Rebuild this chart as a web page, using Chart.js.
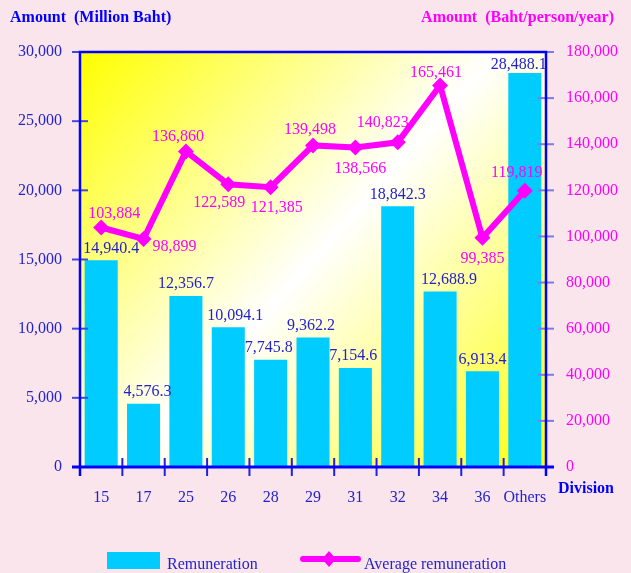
<!DOCTYPE html>
<html>
<head>
<meta charset="utf-8">
<script src="https://cdn.jsdelivr.net/npm/chart.js@4/dist/chart.umd.min.js"></script>
<style>
  html, body { margin: 0; padding: 0; background: #fbe5ec; }
  #wrap { width: 631px; height: 573px; position: relative; }
</style>
</head>
<body>
<div id="wrap"><canvas id="chart"></canvas></div>
<script>
// data
const divisions = ['15', '17', '25', '26', '28', '29', '31', '32', '34', '36', 'Others'];
const remuneration = [14940.4, 4576.3, 12356.7, 10094.1, 7745.8, 9362.2, 7154.6, 18842.3, 12688.9, 6913.4, 28488.1];
const avgRemuneration = [103884, 98899, 136860, 122589, 121385, 139498, 138566, 140823, 165461, 99385, 119819];
const leftTicks = [0, 5000, 10000, 15000, 20000, 25000, 30000];
const rightTicks = [0, 20000, 40000, 60000, 80000, 100000, 120000, 140000, 160000, 180000];

// label placement (offsets from the mark, in px)
const barLabelDx = [10, 4, 0, 7, -2, -2, -2, 0, 9, 0, -6];
const lineLabelOffset = [[13, -14], [31, 8], [-8, -15], [-9, 18], [6, 21], [-3, -16], [5, 21], [-15, -20], [-4, -13], [0, 21], [-8, -18]];

const SERIF = "'Liberation Serif', 'Times New Roman', serif";
const BLUE = '#0000ff';
const TEXT_BLUE = '#2323cc';
const MAGENTA = '#ff00ff';
const fmt = (v, d) => v.toLocaleString('en-US', { minimumFractionDigits: d, maximumFractionDigits: d });

const decor = {
  id: 'decor',
  beforeDatasetsDraw(chart) {
    const { ctx, chartArea: a } = chart;
    ctx.save();
    const g = ctx.createLinearGradient(a.left, a.top, a.right, a.bottom);
    g.addColorStop(0, '#ffff00');
    g.addColorStop(0.5, '#ffffff');
    g.addColorStop(1, '#ffff10');
    ctx.fillStyle = g;
    ctx.fillRect(a.left, a.top, a.right - a.left, a.bottom - a.top);
    ctx.restore();
  },
  afterDatasetsDraw(chart) {
    const { ctx, chartArea: a, scales } = chart;
    ctx.save();

    // tick marks crossing the axes
    ctx.lineWidth = 2;
    ctx.strokeStyle = '#4646e0';
    scales.y.ticks.forEach(t => {
      const y = scales.y.getPixelForValue(t.value);
      ctx.beginPath(); ctx.moveTo(a.left - 8, y); ctx.lineTo(a.left + 8, y); ctx.stroke();
    });
    ctx.strokeStyle = '#7a7aee';
    scales.y1.ticks.forEach(t => {
      const y = scales.y1.getPixelForValue(t.value);
      ctx.beginPath(); ctx.moveTo(a.right - 8, y); ctx.lineTo(a.right + 8, y); ctx.stroke();
    });
    ctx.strokeStyle = '#2020e8';
    const n = divisions.length;
    for (let i = 0; i <= n; i++) {
      const x = a.left + (a.right - a.left) * i / n;
      ctx.beginPath(); ctx.moveTo(x, a.bottom - 9); ctx.lineTo(x, a.bottom + 9); ctx.stroke();
    }

    // frame
    ctx.strokeStyle = BLUE;
    ctx.lineWidth = 2.5;
    ctx.beginPath();
    ctx.moveTo(a.left, a.bottom + 9); ctx.lineTo(a.left, a.top);
    ctx.lineTo(a.right, a.top); ctx.lineTo(a.right, a.bottom + 9);
    ctx.stroke();
    ctx.lineWidth = 3;
    ctx.beginPath(); ctx.moveTo(a.left - 8, a.bottom); ctx.lineTo(a.right + 8, a.bottom); ctx.stroke();

    // value labels
    ctx.font = '16px ' + SERIF;
    ctx.textAlign = 'center';
    ctx.textBaseline = 'middle';
    ctx.fillStyle = TEXT_BLUE;
    chart.getDatasetMeta(0).data.forEach((bar, i) => {
      const dy = i === n - 1 ? 8 : 12;
      ctx.fillText(fmt(remuneration[i], 1), bar.x + barLabelDx[i], bar.y - dy);
    });
    ctx.fillStyle = MAGENTA;
    chart.getDatasetMeta(1).data.forEach((pt, i) => {
      const [dx, dy] = lineLabelOffset[i];
      ctx.fillText(fmt(avgRemuneration[i], 0), pt.x + dx, pt.y + dy);
    });
    ctx.restore();
  },
  afterDraw(chart) {
    const { ctx } = chart;
    ctx.save();
    ctx.textBaseline = 'middle';
    ctx.font = 'bold 16px ' + SERIF;
    ctx.fillStyle = BLUE;
    ctx.textAlign = 'left';
    ctx.fillText('Amount  (Million Baht)', 10, 18);
    ctx.fillText('Division', 558, 489);
    ctx.fillStyle = MAGENTA;
    ctx.textAlign = 'right';
    ctx.fillText('Amount  (Baht/person/year)', 614, 18);

    // legend
    ctx.textAlign = 'left';
    ctx.font = '16px ' + SERIF;
    ctx.fillStyle = '#00ccff';
    ctx.fillRect(107, 552, 53, 17);
    ctx.fillStyle = TEXT_BLUE;
    ctx.fillText('Remuneration', 167, 565);
    ctx.strokeStyle = MAGENTA;
    ctx.lineWidth = 6;
    ctx.lineCap = 'round';
    ctx.beginPath(); ctx.moveTo(303, 559); ctx.lineTo(358, 559); ctx.stroke();
    ctx.fillStyle = MAGENTA;
    ctx.beginPath();
    ctx.moveTo(329, 551); ctx.lineTo(336, 559); ctx.lineTo(329, 567); ctx.lineTo(322, 559);
    ctx.closePath(); ctx.fill();
    ctx.fillStyle = TEXT_BLUE;
    ctx.fillText('Average remuneration', 364, 565);
    ctx.restore();
  }
};

new Chart(document.getElementById('chart'), {
  data: {
    labels: divisions,
    datasets: [
      {
        type: 'bar',
        label: 'Remuneration',
        data: remuneration,
        backgroundColor: '#00ccff',
        barPercentage: 0.78,
        categoryPercentage: 1,
        yAxisID: 'y',
        order: 2
      },
      {
        type: 'line',
        label: 'Average remuneration',
        data: avgRemuneration,
        borderColor: MAGENTA,
        backgroundColor: MAGENTA,
        borderWidth: 6,
        pointStyle: 'rectRot',
        pointRadius: 8,
        pointHoverRadius: 8,
        pointBorderWidth: 0,
        tension: 0,
        yAxisID: 'y1',
        order: 1
      }
    ]
  },
  options: {
    responsive: true,
    maintainAspectRatio: false,
    animation: false,
    layout: { padding: { top: 52, left: 0, right: 0, bottom: 0 } },
    plugins: {
      legend: { display: false },
      tooltip: { enabled: false }
    },
    scales: {
      x: {
        grid: { display: false },
        border: { display: false },
        ticks: { color: TEXT_BLUE, font: { family: SERIF, size: 16 }, padding: 13, maxRotation: 0, autoSkip: false },
        afterFit: s => { s.height = 106; }
      },
      y: {
        position: 'left',
        min: 0, max: 30000,
        afterBuildTicks: s => { s.ticks = leftTicks.map(v => ({ value: v })); },
        grid: { display: false },
        border: { display: false },
        ticks: { color: TEXT_BLUE, font: { family: SERIF, size: 16 }, padding: 10, callback: v => fmt(v, 0) },
        afterFit: s => { s.width = 80; }
      },
      y1: {
        position: 'right',
        min: 0, max: 180000,
        afterBuildTicks: s => { s.ticks = rightTicks.map(v => ({ value: v })); },
        grid: { display: false },
        border: { display: false },
        ticks: { color: MAGENTA, font: { family: SERIF, size: 16 }, padding: 12, callback: v => fmt(v, 0) },
        afterFit: s => { s.width = 85; }
      }
    }
  },
  plugins: [decor]
});
</script>
</body>
</html>
